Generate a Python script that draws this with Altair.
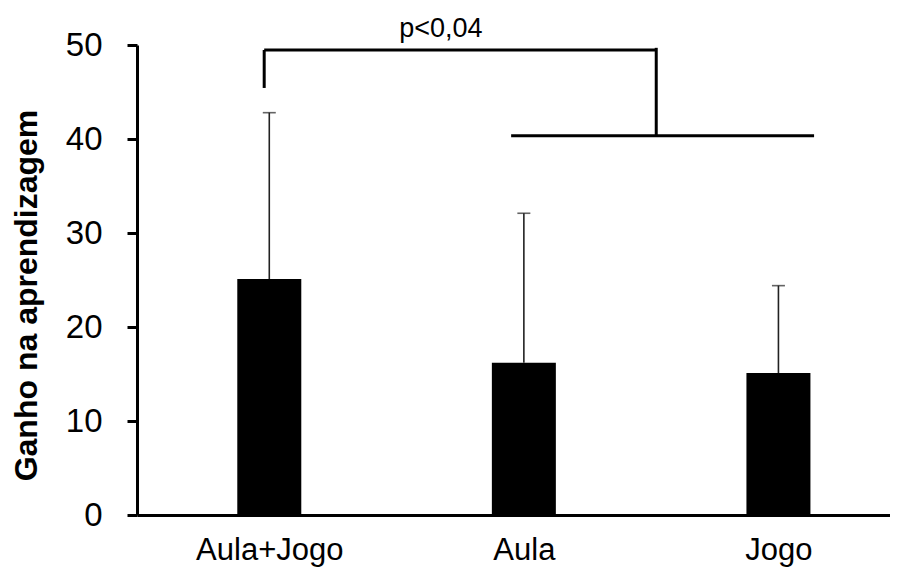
import json
import altair as alt
import pandas as pd

# ---- data ----
groups = ["Aula+Jogo", "Aula", "Jogo"]
positions = [0, 1, 2]
means = [25.1, 16.2, 15.1]
sds = [17.7, 15.9, 9.3]

y_ticks = [0, 10, 20, 30, 40, 50]
y_title = "Ganho na aprendizagem"

# significance bracket (x in category units, y in data units)
br_x = [-0.02, -0.02, 1.52, 0.95]
br_x2 = [1.52, -0.02, 1.52, 2.14]
br_y = [49.47, 45.43, 40.35, 40.35]
br_y2 = [49.47, 49.47, 49.7, 40.35]
p_text = ["p<0,04"]
p_x = [0.674]
p_y = [50.9]

# ---- layout ----
FONT = "Liberation Sans"
W, H = 753, 470
STEP = 258
XMAX = -0.5 + W / STEP

bars = pd.DataFrame({"pos": positions, "group": groups, "mean": means, "sd": sds})
bars["upper"] = bars["mean"] + bars["sd"]
bracket = pd.DataFrame({"x": br_x, "x2": br_x2, "y": br_y, "y2": br_y2})
ptxt = pd.DataFrame({"t": p_text, "x": p_x, "y": p_y})

xscale = alt.Scale(domain=[-0.5, XMAX], nice=False, zero=False)
yscale = alt.Scale(domain=[0, 50], nice=False)

xaxis = alt.Axis(
    values=positions,
    labelExpr=json.dumps(groups) + "[datum.value]",
    ticks=False, tickSize=0, grid=False,
    domainColor="black", domainWidth=3,
    labelFont=FONT, labelFontSize=31, labelColor="black",
    labelPadding=44, labelBaseline="alphabetic", labelAngle=0,
    labelFlush=False, labelOverlap=False,
)
yaxis = alt.Axis(
    values=y_ticks, grid=False,
    tickSize=10, tickWidth=3, tickColor="black",
    domainColor="black", domainWidth=3,
    labelFont=FONT, labelFontSize=33, labelColor="black", labelPadding=25,
    labelFlush=False,
    titleFont=FONT, titleFontSize=32, titleFontWeight="bold", titleColor="black",
    titleX=-101, titleY=250, titleAngle=270, titleBaseline="alphabetic",
    titleAlign="center",
)


def X(f):
    return alt.X(f"{f}:Q", scale=xscale, axis=xaxis, title=None)


def Y(f):
    return alt.Y(f"{f}:Q", scale=yscale, axis=yaxis, title=y_title)


bar_layer = alt.Chart(bars).mark_bar(color="black", size=64).encode(
    x=X("pos"), y=Y("mean")
)
err_layer = alt.Chart(bars).mark_rule(color="#222222", strokeWidth=1.6).encode(
    x=X("pos"), y=Y("mean"), y2="upper:Q"
)
cap_layer = alt.Chart(bars).mark_tick(
    color="#222222", orient="horizontal", size=13, thickness=1.6
).encode(x=X("pos"), y=Y("upper"))
br_layer = alt.Chart(bracket).mark_rule(color="black", strokeWidth=3).encode(
    x=X("x"), x2="x2:Q", y=Y("y"), y2="y2:Q"
)
txt_layer = alt.Chart(ptxt).mark_text(
    font=FONT, fontSize=27, color="black", baseline="alphabetic", align="center"
).encode(x=X("x"), y=Y("y"), text="t:N")

chart = (
    alt.layer(bar_layer, err_layer, cap_layer, br_layer, txt_layer)
    .properties(
        width=W, height=H,
        autosize=alt.AutoSizeParams(type="none"),
        padding={"left": 129, "top": 37, "right": 0, "bottom": 53},
        background="white",
    )
    .configure_view(stroke=None)
)

chart.save("out.html", embed_options={"renderer": "svg", "actions": False})
